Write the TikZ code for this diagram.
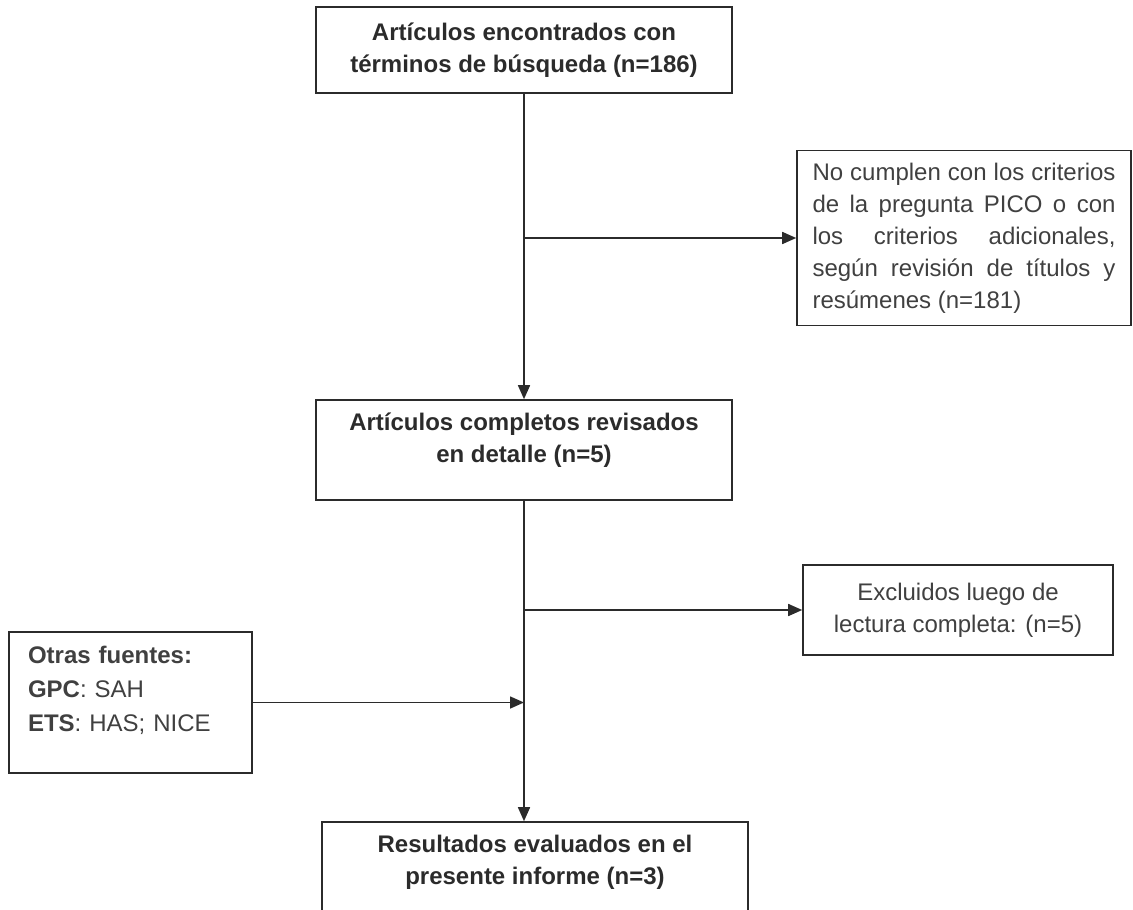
\documentclass[tikz,border=0pt]{standalone}
\usepackage{fontspec}
\setmainfont{Liberation Sans}
\usetikzlibrary{arrows.meta,calc}

\definecolor{ink}{HTML}{2B2B2B}
\definecolor{txt}{HTML}{404040}

\tikzset{
  caja/.style={draw=ink, line width=.8pt, text=ink, align=center, inner sep=0pt,
    font=\fontsize{12}{16}\selectfont\bfseries},
  nota/.style={draw=ink, line width=.8pt, text=txt, inner sep=0pt,
    font=\fontsize{12}{16}\selectfont},
  flecha/.style={draw=ink, line width=.8pt, -{Triangle[length=7pt,width=6pt]}}
}

\begin{document}
\begin{tikzpicture}[x=.5pt,y=-.5pt]
    \useasboundingbox (0,0) rectangle (1133,909);
    % main column
    \node[caja, minimum width=208pt, minimum height=43pt] (encontrados) at (524,50)
      {Artículos encontrados con\\términos de búsqueda (n=186)};
    \node[caja, minimum width=208pt, minimum height=50pt] (revisados) at (524,450)
      {Artículos completos revisados\\en detalle (n=5)\\[-3.5pt]\mbox{}};
    \node[caja, minimum width=213pt, minimum height=50pt] (resultados) at (535,872)
      {Resultados evaluados en el\\presente informe (n=3)\\[-3.5pt]\mbox{}};
    % side boxes
    \node[nota, align=justify, text width=151.5pt, minimum width=167pt, minimum height=87.5pt] (nocumplen) at (964,238)
      {No cumplen con los criterios\linebreak de la pregunta PICO o con\linebreak los criterios adicionales,\linebreak según revisión de títulos y\linebreak resúmenes (n=181)};
    \node[nota, align=center, minimum width=155pt, minimum height=45pt] (excluidos) at (958,610)
      {Excluidos luego de\\lectura completa: (n=5)};
    \node[nota, align=left, text width=102.5pt, minimum width=121.5pt, minimum height=70.5pt,
      font=\fontsize{12}{17}\selectfont] (otras) at (130.5,702.5)
      {\textbf{Otras fuentes:}\\\textbf{GPC}: SAH\\\textbf{ETS}: HAS; NICE\\[-3.5pt]\mbox{}};
    % connectors
    \draw[flecha] (encontrados) -- (revisados);
    \draw[flecha] (encontrados.south |- nocumplen.west) -- (nocumplen.west);
    \draw[flecha] (revisados.south) -- (revisados.south |- resultados.north);
    \draw[flecha] (revisados.south |- excluidos.west) -- (excluidos.west);
    \draw[flecha] (otras.east) -- (otras.east -| revisados.south);
\end{tikzpicture}
\end{document}
